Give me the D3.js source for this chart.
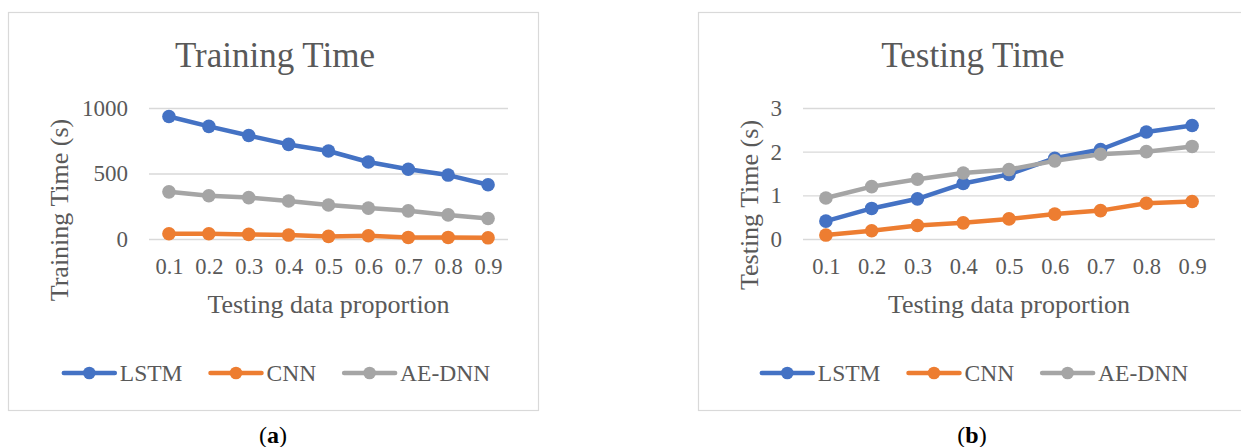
<!DOCTYPE html>
<html>
<head>
<meta charset="utf-8">
<script src="https://cdn.jsdelivr.net/npm/d3@7"></script>
<style>
  body { margin: 0; background: #fff; }
  text { font-family: "Liberation Serif", "Times New Roman", serif; fill: #595959; }
</style>
</head>
<body>
<svg id="chart" width="1241" height="447"></svg>
<script>
// categories and series
const proportions = ['0.1', '0.2', '0.3', '0.4', '0.5', '0.6', '0.7', '0.8', '0.9'];
const seriesNames = ['LSTM', 'CNN', 'AE-DNN'];
const seriesColors = ['#4472C4', '#ED7D31', '#A5A5A5'];

// training time (s)
const trainLSTM = [935, 860, 790, 722, 672, 588, 532, 488, 414];
const trainCNN = [40, 40, 35, 30, 20, 25, 12, 12, 9];
const trainAEDNN = [360, 330, 316, 290, 260, 236, 215, 184, 156];
const trainTicks = [0, 500, 1000];

// testing time (s)
const testLSTM = [0.41, 0.70, 0.92, 1.27, 1.48, 1.85, 2.05, 2.45, 2.60];
const testCNN = [0.09, 0.19, 0.31, 0.37, 0.46, 0.57, 0.65, 0.82, 0.86];
const testAEDNN = [0.94, 1.20, 1.37, 1.51, 1.59, 1.79, 1.94, 2.00, 2.12];
const testTicks = [0, 1, 2, 3];

const svg = d3.select('#chart');
svg.append('rect').attr('width', 1241).attr('height', 447).attr('fill', '#fff');

function drawPanel(cfg) {
    const g = svg.append('g');

    // panel border
    g.append('rect')
        .attr('x', cfg.boxL + 0.5).attr('y', 12.5)
        .attr('width', cfg.boxR - cfg.boxL).attr('height', 398)
        .attr('fill', 'none').attr('stroke', '#d9d9d9').attr('stroke-width', 1.2);

    const x = d3.scalePoint().domain(proportions).range([cfg.plotL, cfg.plotR]).padding(0.5);
    const y = d3.scaleLinear().domain([0, d3.max(cfg.ticks)]).range([239, 108]);

    // gridlines + y tick labels
    const yAxis = g.append('g')
        .attr('transform', `translate(${cfg.plotL},0)`)
        .call(d3.axisLeft(y)
            .tickValues(cfg.ticks)
            .tickFormat(d3.format('d'))
            .tickSize(-(cfg.plotR - cfg.plotL))
            .tickPadding(21));
    yAxis.select('.domain').remove();
    yAxis.selectAll('line').attr('stroke', '#d9d9d9').attr('stroke-width', 1.4);
    yAxis.selectAll('text').attr('fill', '#595959').style('font-size', '23px')
        .style('font-family', '"Liberation Serif", serif');

    // x tick labels
    const xAxis = g.append('g')
        .attr('transform', 'translate(0,239)')
        .call(d3.axisBottom(x).tickSize(0).tickPadding(19));
    xAxis.select('.domain').remove();
    xAxis.selectAll('text').attr('fill', '#595959').style('font-size', '22.5px')
        .style('font-family', '"Liberation Serif", serif');

    // titles
    g.append('text')
        .attr('x', cfg.titleX).attr('y', 67)
        .attr('text-anchor', 'middle').style('font-size', '35px')
        .text(cfg.title);
    g.append('text')
        .attr('x', (cfg.plotL + cfg.plotR) / 2).attr('y', 313)
        .attr('text-anchor', 'middle').style('font-size', '26px')
        .text('Testing data proportion');
    g.append('text')
        .attr('transform', `translate(${cfg.yTitleX},${cfg.yTitleY}) rotate(-90)`)
        .attr('text-anchor', 'middle').style('font-size', '26px')
        .text(cfg.yTitle);

    // series
    const line = d3.line().x((d, i) => x(proportions[i])).y(d => y(d));
    cfg.series.forEach((vals, k) => {
        g.append('path')
            .datum(vals)
            .attr('d', line)
            .attr('fill', 'none')
            .attr('stroke', seriesColors[k])
            .attr('stroke-width', 4.5)
            .attr('stroke-linejoin', 'round')
            .attr('stroke-linecap', 'round');
        g.selectAll(null)
            .data(vals)
            .enter()
            .append('circle')
            .attr('cx', (d, i) => x(proportions[i]))
            .attr('cy', d => y(d))
            .attr('r', 6.8)
            .attr('fill', seriesColors[k]);
    });

    // legend, centred in the panel
    const leg = g.append('g');
    let pos = 0;
    seriesNames.forEach((name, k) => {
        const item = leg.append('g').attr('transform', `translate(${pos},0)`);
        item.append('line')
            .attr('x1', 2).attr('x2', 53).attr('y1', 373).attr('y2', 373)
            .attr('stroke', seriesColors[k]).attr('stroke-width', 4.5).attr('stroke-linecap', 'round');
        item.append('circle').attr('cx', 27.5).attr('cy', 373).attr('r', 6.3).attr('fill', seriesColors[k]);
        const t = item.append('text')
            .attr('x', 58).attr('y', 381)
            .style('font-size', '23.5px')
            .text(name);
        pos += 58 + t.node().getComputedTextLength() + 26;
    });
    const legW = pos - 26;
    leg.attr('transform', `translate(${cfg.legendCx - legW / 2},0)`);

    // caption
    svg.append('text')
        .attr('x', cfg.captionX).attr('y', 443)
        .attr('text-anchor', 'middle')
        .style('font-size', '24px')
        .style('fill', '#000')
        .html(`(<tspan font-weight="bold">${cfg.caption}</tspan>)`);
}

drawPanel({
    boxL: 8, boxR: 538,
    plotL: 149, plotR: 508,
    ticks: trainTicks,
    title: 'Training Time', titleX: 275,
    yTitle: 'Training Time (s)', yTitleX: 68, yTitleY: 210,
    series: [trainLSTM, trainCNN, trainAEDNN],
    legendCx: 276, captionX: 273, caption: 'a'
});

drawPanel({
    boxL: 698, boxR: 1250,
    plotL: 803, plotR: 1215,
    ticks: testTicks,
    title: 'Testing Time', titleX: 973,
    yTitle: 'Testing Time (s)', yTitleX: 758, yTitleY: 205,
    series: [testLSTM, testCNN, testAEDNN],
    legendCx: 974, captionX: 972, caption: 'b'
});
</script>
</body>
</html>
